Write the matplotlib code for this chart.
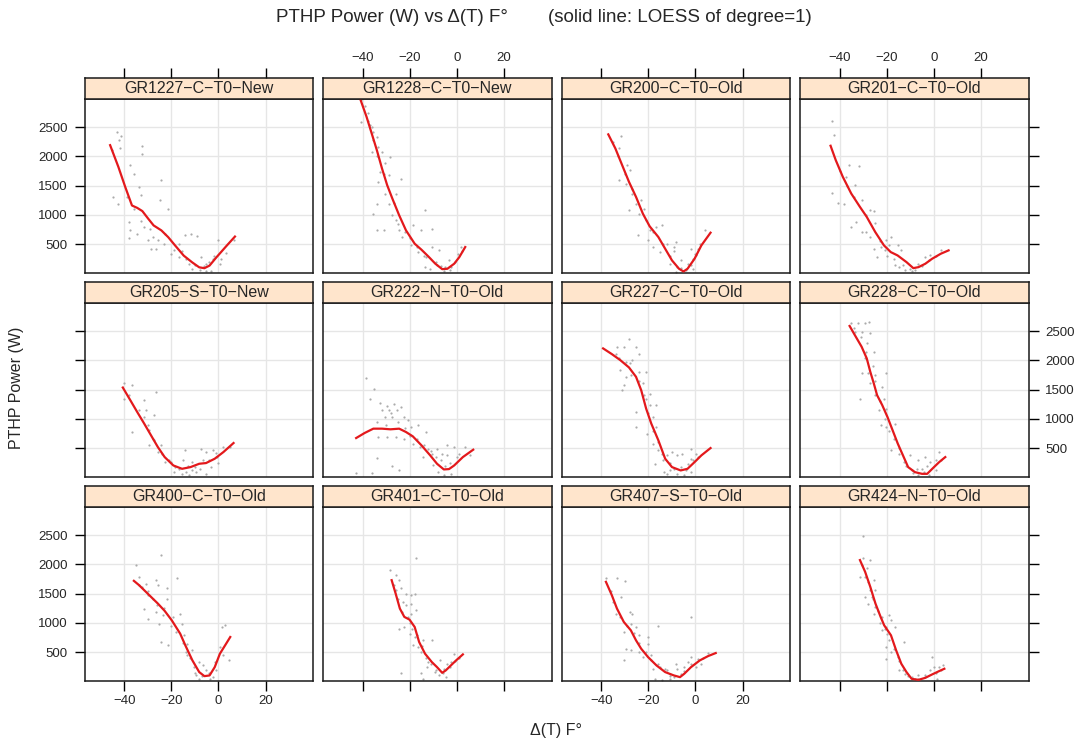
import numpy as np
import matplotlib.pyplot as plt

plt.rcParams['font.family'] = ['Liberation Sans', 'DejaVu Sans']

# --- panel names (lattice strips, row by row) ---
panels = ["GR1227-C-T0-New", "GR1228-C-T0-New", "GR200-C-T0-Old", "GR201-C-T0-Old",
          "GR205-S-T0-New", "GR222-N-T0-Old", "GR227-C-T0-Old", "GR228-C-T0-Old",
          "GR400-C-T0-Old", "GR401-C-T0-Old", "GR407-S-T0-Old", "GR424-N-T0-Old"]

x_ticks = [-40, -20, 0, 20]
y_ticks = [500, 1000, 1500, 2000, 2500]

# --- raw points (delta T, power W) ---
gr1227_pts = [(-43, 2420), (-41.5, 2340), (-42.5, 2280), (-42, 2134), (-44.8, 1306), (-42.6, 1191),
              (-37.5, 1849), (-32.4, 2180), (-32.4, 2037), (-36, 1706), (-33.9, 1477), (-33, 1334),
              (-24.3, 1591), (-24.8, 1249), (-21.4, 1106), (-38.2, 877), (-37.5, 734), (-38.2, 609),
              (-34.6, 677), (-31.7, 791), (-30.2, 563), (-28.7, 420), (-25.8, 563), (-26.5, 420),
              (-22.9, 677), (-20, 334), (-17, 277), (-14.1, 649), (-11.9, 677), (-9, 643),
              (-15.5, 391), (-12.6, 163), (-11.2, 77), (-7.5, 277), (-5.3, 163), (-2.4, 249),
              (-0.2, 563), (0.6, 163), (6.4, 563), (-5.3, 37), (-3.1, 49),
              (-14, 250), (-10, 150), (-8, 60), (-6, 120), (-4, 200), (-2, 300), (1, 250), (3, 350),
              (-19, 400), (-17, 500), (-23, 500), (-28, 620), (-33, 900), (-36, 1100), (-39, 1300),
              (-29, 760), (-45.5, 2100)]
gr1228_pts = [(-40.7, 2960), (-39, 2860), (-37.8, 2734), (-41, 2591), (-37.1, 2534), (-35.6, 2420),
              (-35.6, 2277), (-36.3, 2078), (-34.1, 2334), (-33.4, 2163), (-32, 2078), (-30.5, 1878),
              (-28.3, 1992), (-32.7, 1735), (-29, 1678), (-33.4, 1564), (-23.9, 1621), (-26.1, 1364),
              (-30.5, 1364), (-34.1, 1193), (-29, 1193), (-35.6, 1022), (-27.5, 993), (-26.1, 907),
              (-34.1, 736), (-31.2, 736), (-24.6, 736), (-23.2, 622), (-18.8, 822), (-15.1, 736),
              (-13.7, 1079), (-10.7, 765), (-19.5, 479), (-16.6, 365), (-13, 280), (-10.7, 451),
              (-7.8, 394), (-13.7, 109), (-11.5, 80), (-8.6, 137), (-4.9, 109), (-3.4, 223),
              (0.3, 337), (1.7, 451), (-5.6, 40), (-2.7, 109),
              (-38, 2600), (-36, 2500), (-34, 2000), (-31, 1700), (-27, 1200), (-22, 700), (-20, 600),
              (-17, 450), (-14, 300), (-9, 200), (-7, 120), (-3, 60), (-1, 200), (2, 380), (-25, 850)]
gr200_pts = [(-31.6, 2346), (-32.7, 2135), (-29, 1849), (-28, 1764), (-29.7, 1535), (-32.7, 1592),
             (-26.8, 1364), (-25.3, 1193), (-23.9, 1022), (-23.2, 1250), (-28.3, 1079), (-21, 907),
             (-19.5, 736), (-16.6, 793), (-14.4, 833), (-24.6, 650), (-20.2, 565), (-18, 451),
             (-15.1, 365), (-12.2, 508), (-8.5, 537), (-9.2, 382), (-10.7, 166), (-7.8, 109),
             (-8.5, 23), (-1.9, 422), (-1.2, 251), (1, 422), (-3.4, 166), (-1.2, 80), (4, 736),
             (0.4, 308), (-6.3, 223),
             (-35, 2250), (-33, 2000), (-30, 1700), (-27, 1450), (-22, 1100), (-18, 700), (-14, 500),
             (-11, 300), (-6, 100), (-4, 60), (-2, 150), (0, 330), (2, 500), (-9, 450)]
gr201_pts = [(-43.5, 2603), (-42.5, 2363), (-43.2, 1376), (-41, 1204), (-38.1, 1182), (-36.2, 1849),
             (-31.8, 1838), (-37.4, 1650), (-33.7, 1507), (-30.8, 1250), (-27.1, 1079), (-25.6, 1067),
             (-25, 862), (-35.2, 793), (-33, 879), (-30.8, 708), (-28.9, 708), (-27.1, 622),
             (-25.6, 422), (-24.2, 280), (-22.7, 451), (-20.5, 565), (-18.3, 622), (-19, 479),
             (-15.4, 479), (-13.9, 394), (-16.8, 137), (-14.7, 109), (-12.4, 51), (-9.5, 40),
             (-6.6, 166), (-3.7, 280), (-1.5, 308), (2.9, 394),
             (-40, 1750), (-37, 1500), (-34, 1300), (-29, 1000), (-23, 550), (-21, 400), (-17, 250),
             (-13, 150), (-10, 80), (-8, 60), (-5, 120), (-2, 230), (1, 300), (-20, 300)]
gr205_pts = [(-40.4, 1604), (-36.8, 1575), (-40.1, 1347), (-31.6, 1318), (-26.5, 1461), (-30.9, 1147),
             (-36.8, 776), (-31.6, 1033), (-27.3, 1062), (-29.5, 805), (-27.3, 634), (-29.5, 548),
             (-25.8, 434), (-24.3, 548), (-22.9, 262), (-20, 262), (-18.5, 177), (-15.5, 62),
             (-12.6, 34), (-14.9, 291), (-11.2, 262), (-9.7, 91), (-7.5, 491), (-5.3, 434),
             (-6.7, 291), (-2.3, 462), (-0.8, 348), (-5.3, 62), (2.1, 519), (5, 519), (-11.2, 120),
             (-3.1, 177), (-14.3, 462),
             (-38, 1400), (-34, 1150), (-30, 900), (-28, 650), (-24, 400), (-21, 300), (-17, 150),
             (-14, 100), (-10, 180), (-8, 150), (-4, 300), (-1, 420), (0, 250), (-13, 200), (-19, 100)]
gr222_pts = [(-38.5, 1690), (-35.2, 1518), (-37.1, 1347), (-32.7, 1273), (-29.7, 1216), (-26.8, 1262),
             (-29, 1147), (-31.9, 1147), (-25.4, 1147), (-23.9, 1205), (-30.5, 1033), (-27.5, 1033),
             (-22.4, 1033), (-21, 976), (-19.5, 862), (-16.6, 890), (-33.4, 690), (-29.7, 690),
             (-26.1, 690), (-22.4, 662), (-18.8, 576), (-15.9, 519), (-13, 776), (-12.2, 491),
             (-10.7, 405), (-8.5, 491), (-6.3, 405), (-4.1, 548), (-4.1, 377), (-1.2, 519),
             (1, 405), (3.2, 519), (5.4, 377), (-34.1, 334), (-27.5, 191), (-24.6, 134),
             (-42.9, 74), (-36.3, 74), (-10, 205), (-5.6, 34), (-2.7, 62), (-14.4, 348),
             (-30, 900), (-28, 1100), (-25, 950), (-22, 850), (-20, 700), (-17, 650), (-14, 560),
             (-11, 460), (-9, 350), (-7, 300), (-5, 200), (-3, 250), (0, 350), (-34, 950), (-8, 100)]
gr227_pts = [(-28.3, 2357), (-25.3, 2232), (-30.5, 2232), (-33.4, 2232), (-32.7, 2032), (-29.7, 1975),
             (-26.8, 2003), (-23.9, 2106), (-32, 1832), (-29.7, 1718), (-30.5, 1575), (-31.2, 1501),
             (-27.5, 1747), (-23.9, 1804), (-21, 1804), (-22.4, 1604), (-19.5, 1433), (-21, 1347),
             (-25.3, 1119), (-25.3, 862), (-19.5, 1233), (-16.6, 1233), (-18, 1033), (-16.6, 862),
             (-20.8, 748), (-18, 576), (-15.8, 462), (-14.4, 405), (-12.2, 377), (-10, 434),
             (-7.8, 377), (-5.6, 405), (-1.9, 491), (0.4, 405), (-3.4, 234), (-10.7, 120),
             (-7.8, 62), (-4.9, 34), (-13.6, 91), (-1.9, 91), (-1.9, 320), (-17.3, 234),
             (-34, 2100), (-28, 1950), (-24, 1650), (-22, 1400), (-20, 1100), (-18, 800), (-16, 600),
             (-14, 300), (-11, 250), (-9, 150), (-6, 180), (-4, 120), (-1, 300), (1, 350), (-12, 60)]
gr228_pts = [(-35.2, 2631), (-32.2, 2643), (-29.3, 2631), (-27.5, 2654), (-33.7, 2489), (-30.8, 2489),
             (-27.1, 2460), (-28.6, 2289), (-25.6, 2146), (-29.3, 2032), (-30.8, 1775), (-27.9, 1775),
             (-27.1, 1604), (-24.9, 1747), (-20.5, 1775), (-31.6, 1347), (-24.9, 1404), (-22, 1547),
             (-21.3, 1347), (-23.4, 1147), (-20.5, 1176), (-22.7, 890), (-20.5, 862), (-16.8, 919),
             (-18.3, 462), (-14.7, 405), (-12.6, 262), (-10.4, 377), (-6.6, 291), (-3.7, 348),
             (-1.5, 262), (2.2, 434), (-9.5, 120), (-7.3, 148), (-4.4, 91), (-2.2, 34), (0.7, 120),
             (2.9, 291), (-6.6, 34),
             (-34, 2550), (-31, 2400), (-29, 2150), (-26, 1900), (-25, 1650), (-23, 1300), (-21, 1000),
             (-19, 800), (-17, 650), (-15, 500), (-12, 200), (-9, 80), (-5, 150), (-3, 200), (1, 300)]
gr400_pts = [(-35.3, 1986), (-33.8, 1787), (-32.4, 1615), (-31, 1672), (-29.9, 1473), (-31.6, 1244),
             (-30.2, 1073), (-26.5, 1187), (-26.5, 1729), (-25.8, 1644), (-24.3, 2158), (-22.1, 1587),
             (-21.7, 1416), (-23.6, 1130), (-25.1, 987), (-24.3, 673), (-21.4, 616), (-19.2, 1102),
             (-17.7, 1758), (-16.3, 1159), (-15.5, 987), (-14.8, 787), (-13.3, 645), (-13.3, 445),
             (-11.1, 531), (-10.4, 245), (-8.2, 331), (-6.7, 274), (-5.3, 188), (-8.2, 45),
             (-3.8, 45), (-1.6, 331), (0.6, 588), (1.3, 930), (2.8, 959), (4.3, 359), (-2.3, 74),
             (-9.7, 103),
             (-34, 1650), (-30, 1550), (-28, 1400), (-26, 1300), (-23, 1250), (-20, 950), (-18, 850),
             (-15, 650), (-12, 400), (-10, 150), (-7, 100), (-4, 150), (-1, 200), (2, 450), (-14, 500)]
gr401_pts = [(-28.3, 1901), (-26.1, 1815), (-24.6, 1729), (-26.1, 1558), (-23.9, 1587), (-17.3, 2100),
             (-21.7, 1501), (-19.5, 1473), (-18, 1501), (-21.7, 1302), (-19.5, 1330), (-17.3, 1216),
             (-23.2, 1187), (-19.5, 1159), (-24.6, 902), (-22.4, 930), (-20.2, 816), (-18, 759),
             (-18.8, 616), (-16.6, 588), (-15.1, 502), (-14.4, 702), (-10.7, 702), (-12.2, 331),
             (-23.9, 148), (-15.1, 142), (-12.9, 245), (-9.3, 160), (-7.8, 103), (-4.8, 74),
             (-4.1, 302), (-5.6, 217), (-2.6, 331), (-1.1, 474), (-7.1, 359), (-14.4, 34),
             (-27, 1650), (-25, 1400), (-23, 1350), (-21, 1100), (-20, 1000), (-17, 800), (-15, 600),
             (-13, 400), (-11, 300), (-9, 200), (-6, 150), (-3, 250), (-1, 350), (1, 400), (-19, 900)]
gr407_pts = [(-38.2, 1758), (-33.4, 1758), (-30, 1718), (-31.9, 1444), (-33.8, 1159), (-28, 1187),
             (-26.8, 1159), (-27.5, 987), (-30.5, 845), (-25.3, 930), (-23.9, 788), (-20.2, 759),
             (-20.2, 645), (-15.8, 947), (-29.7, 559), (-27.5, 531), (-23.9, 502), (-30.5, 359),
             (-22.4, 417), (-18.8, 359), (-18, 217), (-15, 245), (-12.2, 188), (-10.7, 131),
             (-8.5, 302), (-7.8, 217), (-6.3, 131), (-4.8, 245), (-1.9, 1102), (-1.9, 417),
             (0.4, 245), (2.5, 302), (5.4, 491), (-17.3, 45), (-14.4, 28), (-10.7, 45), (-3.4, 331),
             (-36, 1550), (-35, 1350), (-32, 1100), (-29, 950), (-26, 820), (-24, 650), (-21, 500),
             (-19, 450), (-16, 300), (-13, 220), (-11, 100), (-9, 80), (-5, 180), (-2, 300), (1, 380),
             (3, 400)]
gr424_pts = [(-30.3, 2483), (-27.4, 2072), (-30.8, 1986), (-28.6, 1929), (-31.5, 1787), (-29.3, 1787),
             (-25.6, 1729), (-27.1, 1558), (-24.9, 1558), (-29.3, 1444), (-26.4, 1444), (-27.9, 1330),
             (-24.9, 1273), (-25.6, 1159), (-22, 1102), (-19, 1130), (-18.3, 1045), (-20.5, 930),
             (-16.8, 930), (-22, 873), (-19.8, 816), (-12.7, 673), (-20.5, 588), (-18.3, 502),
             (-20.5, 388), (-15.4, 417), (-14.7, 188), (-12.4, 131), (-9.5, 74), (-6.6, 45),
             (-3.7, 103), (-1.5, 188), (0, 245), (2.2, 245), (3.7, 274), (-0.8, 417), (1.4, 45),
             (-6.6, 103),
             (-30, 2100), (-28, 1700), (-26, 1400), (-24, 1200), (-23, 1000), (-21, 900), (-19, 700),
             (-17, 550), (-15, 350), (-13, 200), (-11, 100), (-8, 40), (-4, 70), (1, 150), (3, 200)]

# --- LOESS (degree=1) curves as drawn in each panel ---
gr1227_fit = [(-46.1, 2190), (-42.6, 1820), (-39.7, 1480), (-36.8, 1160), (-34.6, 1120), (-32.4, 1065),
              (-29.9, 935), (-27.6, 820), (-24.3, 735), (-21.4, 620), (-18.5, 480), (-14.8, 305),
              (-11.2, 190), (-8.2, 105), (-6.0, 90), (-3.8, 135), (-0.9, 275), (3.5, 475), (7.0, 630)]
gr1228_fit = [(-41.0, 2960), (-38.5, 2677), (-36.3, 2392), (-34.1, 2106), (-31.9, 1792), (-29.7, 1507),
              (-27.5, 1279), (-24.6, 993), (-21.7, 736), (-18.0, 508), (-15.1, 405), (-12.2, 291),
              (-9.2, 166), (-6.3, 74), (-4.1, 80), (-1.2, 166), (1.0, 280), (3.5, 451)]
gr200_fit = [(-37.1, 2374), (-34.1, 2135), (-31.2, 1849), (-28.3, 1564), (-25.3, 1307), (-22.4, 1022),
             (-19.5, 805), (-15.8, 622), (-12.9, 422), (-10, 223), (-7.0, 80), (-5.1, 34), (-3.4, 80),
             (-0.4, 251), (2.5, 479), (6.4, 696)]
gr201_fit = [(-44, 2180), (-41.8, 1935), (-38.8, 1650), (-35.2, 1364), (-31.5, 1136), (-28.6, 965),
             (-25, 708), (-21.3, 480), (-18.4, 365), (-15.5, 308), (-11.7, 194), (-8.8, 91),
             (-6.6, 108), (-3.7, 166), (-0.8, 251), (2.9, 337), (6.2, 394)]
gr205_fit = [(-40.7, 1535), (-37.5, 1318), (-34.6, 1119), (-31.6, 919), (-28.7, 719), (-25.8, 519),
             (-22.9, 348), (-19.2, 205), (-15.5, 148), (-11.9, 177), (-8.2, 234), (-5.3, 246),
             (-1.6, 320), (2.1, 434), (6.4, 588)]
gr222_fit = [(-42.9, 673), (-39.3, 759), (-35.6, 833), (-31.9, 833), (-28.3, 822), (-24.6, 833),
             (-21.7, 776), (-18.8, 702), (-15.1, 548), (-11.4, 377), (-8.5, 234), (-5.6, 137),
             (-3.4, 143), (-1.2, 205), (2.5, 348), (6.9, 474)]
gr227_fit = [(-39.3, 2203), (-35.6, 2106), (-32, 2003), (-28.3, 1878), (-25.3, 1718), (-23.1, 1490),
             (-21, 1176), (-18.8, 919), (-15.8, 634), (-12.9, 320), (-10, 177), (-6.3, 120),
             (-3.4, 148), (-0.4, 262), (2.5, 377), (6.4, 502)]
gr228_fit = [(-35.9, 2586), (-33.7, 2432), (-30.8, 2232), (-28.6, 2032), (-27.1, 1804), (-25.6, 1604),
             (-24.2, 1404), (-22, 1233), (-19.8, 1033), (-17.6, 805), (-15.4, 577), (-13.2, 377),
             (-11, 177), (-8.1, 91), (-5.1, 62), (-2.9, 62), (0, 177), (2.2, 262), (4.8, 348)]
gr400_fit = [(-36, 1718), (-33.8, 1644), (-31.6, 1558), (-28, 1416), (-25.8, 1330), (-22.9, 1205),
             (-19.9, 1045), (-16.3, 816), (-14.1, 616), (-11.1, 360), (-8.2, 160), (-6, 91),
             (-3.8, 103), (-1.6, 245), (0.6, 474), (2.8, 616), (5, 759)]
gr401_fit = [(-27.8, 1729), (-26.1, 1501), (-24.3, 1244), (-22.4, 1102), (-20.2, 1056), (-18, 930),
             (-16.1, 673), (-13.6, 474), (-10.7, 331), (-8.5, 245), (-6.3, 148), (-4.8, 188),
             (-2.6, 274), (-0.4, 359), (2.5, 462)]
gr407_fit = [(-38.1, 1701), (-35.6, 1473), (-33.4, 1244), (-30.5, 1016), (-27.5, 873), (-25.3, 702),
             (-23.1, 559), (-20.2, 417), (-16.6, 274), (-12.9, 160), (-9.2, 103), (-6.6, 74),
             (-4.8, 131), (-1.9, 245), (1.8, 359), (5.4, 434), (8.6, 485)]
gr424_fit = [(-31.5, 2072), (-29.3, 1872), (-27.1, 1615), (-24.9, 1330), (-22.7, 1102), (-21.2, 959),
             (-18.3, 788), (-16.1, 531), (-13.9, 302), (-11.7, 160), (-9.5, 45), (-6.6, 28),
             (-3.7, 62), (-0.8, 120), (2.2, 177), (4.4, 217)]

points = [gr1227_pts, gr1228_pts, gr200_pts, gr201_pts, gr205_pts, gr222_pts,
          gr227_pts, gr228_pts, gr400_pts, gr401_pts, gr407_pts, gr424_pts]
fits = [gr1227_fit, gr1228_fit, gr200_fit, gr201_fit, gr205_fit, gr222_fit,
        gr227_fit, gr228_fit, gr400_fit, gr401_fit, gr407_fit, gr424_fit]

# --- layout (pixels) ---
W, H = 1080, 745
LEFT0, STEP_X, PW = 84.5, 238.5, 228.5
TOP0, STEP_Y, PH = 99, 204, 174
STRIP_H = 21
XLIM, YLIM = (-57, 40.2), (8, 2978)
TXT = '#262626'

fig = plt.figure(figsize=(W / 100, H / 100), dpi=100)

for i, name in enumerate(panels):
    r, c = divmod(i, 4)
    x0 = LEFT0 + c * STEP_X
    ytop = TOP0 + r * STEP_Y
    ax = fig.add_axes([x0 / W, 1 - (ytop + PH) / H, PW / W, PH / H])
    st = fig.add_axes([x0 / W, 1 - ytop / H, PW / W, STRIP_H / H])

    pts = np.array(points[i])
    fit = np.array(fits[i])
    ax.scatter(pts[:, 0], pts[:, 1], s=2.5, color='#ababab', linewidths=0, zorder=2)
    ax.plot(fit[:, 0], fit[:, 1], color='#e3191c', lw=1.6, zorder=3)

    ax.set_xlim(XLIM)
    ax.set_ylim(YLIM)
    ax.set_xticks(x_ticks)
    ax.set_yticks(y_ticks)
    ax.grid(True, color='#e6e6e6', lw=1)
    ax.set_axisbelow(True)
    for sp in ax.spines.values():
        sp.set_linewidth(1.1)
        sp.set_color('#1a1a1a')
    ax.tick_params(direction='out', length=7, width=1, labelsize=9.5, labelcolor=TXT,
                   top=False, labeltop=False,
                   bottom=(r == 2), labelbottom=(r == 2 and c % 2 == 0),
                   left=(c == 0), labelleft=(c == 0 and r != 1),
                   right=(c == 3), labelright=(c == 3 and r == 1))
    ax.tick_params(axis='x', pad=3)
    ax.tick_params(axis='y', pad=5)

    # strip
    st.set_facecolor('#ffe5cc')
    st.set_xlim(XLIM)
    st.set_yticks([])
    for sp in st.spines.values():
        sp.set_linewidth(1.1)
        sp.set_color('#1a1a1a')
    if r == 0:
        st.set_xticks(x_ticks)
        st.tick_params(direction='out', length=7, width=1, labelsize=9.5, labelcolor=TXT,
                       bottom=False, labelbottom=False, top=True, labeltop=(c % 2 == 1), pad=3)
    else:
        st.set_xticks([])
    st.text(0.5, 0.48, name.replace('-', '\u2212'), transform=st.transAxes,
            ha='center', va='center', fontsize=11.5, color=TXT)

fig.text(276 / W, 1 - 18 / H, 'PTHP Power (W) vs \u0394(T) F\u00b0', ha='left', va='center',
         fontsize=13.5, color=TXT)
fig.text(548 / W, 1 - 18 / H, '(solid line: LOESS of degree=1)', ha='left', va='center',
         fontsize=13.5, color=TXT)
fig.text(556 / W, 1 - 730 / H, '\u0394(T) F\u00b0', ha='center', va='center',
         fontsize=11.5, color=TXT)
fig.text(17 / W, 1 - 388 / H, 'PTHP Power (W)', ha='center', va='center', rotation=90,
         fontsize=11.5, color=TXT)

fig.savefig('out.png', dpi=100)
